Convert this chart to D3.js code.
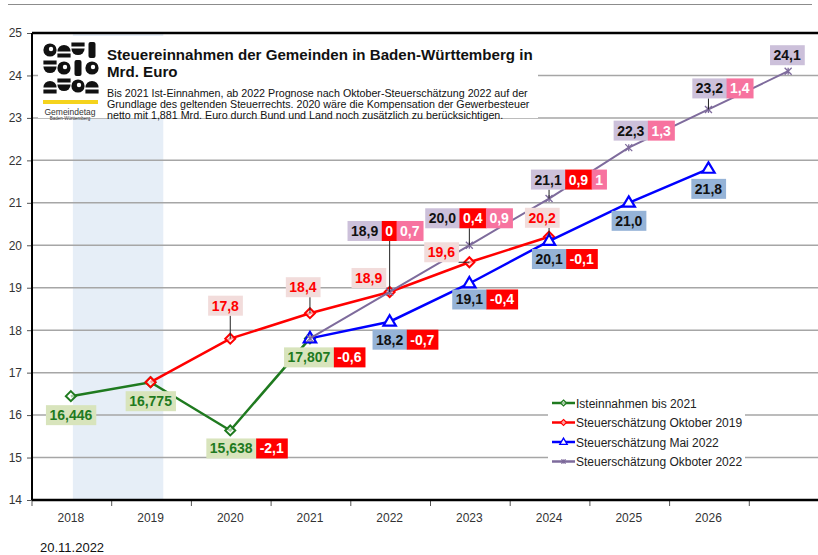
<!DOCTYPE html>
<html><head><meta charset="utf-8">
<script src="https://cdn.jsdelivr.net/npm/d3@7"></script>
<style>body{margin:0;background:#fff;} svg{display:block;font-family:"Liberation Sans",Arial,sans-serif;}</style>
</head><body><svg id="c" width="818" height="555"></svg>
<script>
// ---------- DATA ----------
const years = ["2018","2019","2020","2021","2022","2023","2024","2025","2026","2027"];
const tickLabels = ["2018","2019","2020","2021","2022","2023","2024","2025","2026",""];
const yTicks = [14,15,16,17,18,19,20,21,22,23,24,25];
const istValues      = [16.446,16.775,15.638,17.807,null,null,null,null,null,null];
const okt2019Values  = [null,16.775,17.8,18.4,18.9,19.6,20.2,null,null,null];
const mai2022Values  = [null,null,null,17.807,18.2,19.1,20.1,21.0,21.8,null];
const okt2022Values  = [null,null,null,17.807,18.9,20.0,21.1,22.3,23.2,24.1];
const istDiffOkt2019      = [null,null,-2.1,-0.6,null,null,null,null,null,null];
const mai2022DiffOkt2019  = [null,null,null,null,-0.7,-0.4,-0.1,null,null,null];
const okt2022DiffOkt2019  = [null,null,null,null,0,0.4,0.9,null,null,null];
const okt2022DiffMai2022  = [null,null,null,null,0.7,0.9,1,1.3,1.4,null];
const seriesNames = ["Isteinnahmen bis 2021","Steuerschätzung Oktober 2019","Steuerschätzung Mai 2022","Steuerschätzung Okboter 2022"];
const titleLines = ["Steuereinnahmen der Gemeinden in Baden-Württemberg in","Mrd. Euro"];
const subtitleLines = ["Bis 2021 Ist-Einnahmen, ab 2022 Prognose nach Oktober-Steuerschätzung 2022 auf der",
  "Grundlage des geltenden Steuerrechts. 2020 wäre die Kompensation der Gewerbesteuer",
  "netto mit 1,881 Mrd. Euro durch Bund und Land noch zusätzlich zu berücksichtigen."];
const logoName = ["Gemeindetag","Baden-Württemberg"];
const dateText = "20.11.2022";

// ---------- LAYOUT (label offsets relative to points) ----------
const istLabelOff = {0:[0,19],1:[0,19],2:[1,18],3:[-1,19]};
const okt2019LabelOff = {2:[-5,-33],3:[-7,-26],4:[-21,-14],5:[-28,-10],6:[-7,-19]};
const okt2022LabelOff = {4:[-25,-61],5:[-27,-27],6:[-1,-19],7:[2,-17],8:[1,-21],9:[-1,-16]};
const mai2022LabelOff = {4:[0,18],5:[0,16],6:[0,18],7:[0,18],8:[0,20]};
// decorative logo glyph pattern (rows x cols)
const logoPattern = [["c","t","b","r"],["b","c","r","c"],["t","b","c","t"]];

const C = {green:"#1f7a1f", red:"#ff0000", blue:"#0000ff", purple:"#7e6b9c",
  greenBg:"#d8e4bc", redBg:"#f2dcdb", blueBg:"#95b3d7", purpleBg:"#ccc0da", pink:"#f7739f", grid:"#a6a6a6"};

const svg = d3.select("#c");
const W = 818, H = 555;
const M = {l:31, t:33, b:500, r:828};
const x = d3.scaleBand().domain(years).range([M.l, M.r]).padding(0);
const xc = i => x(years[i]) + x.bandwidth()/2;
const y = d3.scaleLinear().domain([14,25]).range([M.b, M.t]);

// top separator
svg.append("line").attr("x1",8).attr("x2",812).attr("y1",4.5).attr("y2",4.5).attr("stroke","#8c8c8c").attr("stroke-width",1);

// shaded band (full plot height, title box covers the top)
svg.append("rect").attr("x", xc(0)+2).attr("y", y(25))
  .attr("width", (xc(1) + x.bandwidth()*0.16) - (xc(0)+2)).attr("height", y(14)-y(25)).attr("fill","#e6eef7");

// gridlines
svg.append("g").selectAll("line").data(yTicks.filter(d=>d>14 && d<25)).join("line")
  .attr("x1", M.l).attr("x2", W).attr("y1", d=>y(d)).attr("y2", d=>y(d))
  .attr("stroke", C.grid).attr("stroke-width",1.5);

// y axis
const yAxis = svg.append("g").attr("transform",`translate(${M.l+1},0)`)
  .call(d3.axisLeft(y).tickValues(yTicks).tickSize(5).tickFormat(d3.format("d")));
yAxis.select(".domain").remove();
yAxis.selectAll("line").attr("stroke","#555");
yAxis.selectAll("text").attr("font-size",12).attr("fill","#333").attr("font-family","Liberation Sans, Arial").attr("dx",-2);

// x axis
const xAxis = svg.append("g").attr("transform",`translate(0,${M.b})`)
  .call(d3.axisBottom(x).tickSize(0).tickFormat((d,i)=>tickLabels[i]));
xAxis.select(".domain").remove();
xAxis.selectAll("text").attr("font-size",12).attr("fill","#333").attr("dy","1.55em").attr("font-family","Liberation Sans, Arial");
svg.append("g").selectAll("line").data(years).join("line")
  .attr("x1", d=>x(d)+1).attr("x2", d=>x(d)+1).attr("y1", M.b).attr("y2", M.b+6).attr("stroke","#555");

// frame
svg.append("line").attr("x1",M.l+1).attr("x2",W).attr("y1",y(25)).attr("y2",y(25)).attr("stroke","#000").attr("stroke-width",2.5);
svg.append("line").attr("x1",M.l+1).attr("x2",W).attr("y1",y(14)).attr("y2",y(14)).attr("stroke","#000").attr("stroke-width",2.5);
svg.append("line").attr("x1",M.l+1).attr("x2",M.l+1).attr("y1",y(25)).attr("y2",y(14)).attr("stroke","#000").attr("stroke-width",2);

// title box
svg.append("rect").attr("x",38).attr("y",36).attr("width",500).attr("height",82).attr("fill","#fff");
// logo (decorative shapes)
const logo = svg.append("g");
const cw = 14, ch = 18, lx0 = 43, ly0 = 41;
logoPattern.forEach((row,r)=>row.forEach((p,c)=>{
  const cx = lx0 + c*cw + cw/2, cy = ly0 + r*ch + ch/2, rr = 6.6;
  if(p==="c"){
    logo.append("circle").attr("cx",cx).attr("cy",cy).attr("r",rr).attr("fill","#111");
    logo.append("circle").attr("cx",cx+1).attr("cy",cy-1).attr("r",2.2).attr("fill","#fff");
  } else if(p==="t"){
    logo.append("path").attr("d",d3.arc()({innerRadius:0,outerRadius:rr,startAngle:-Math.PI/2,endAngle:Math.PI/2})).attr("transform",`translate(${cx},${cy+1.5})`).attr("fill","#111");
    logo.append("rect").attr("x",cx-rr).attr("y",cy+3.5).attr("width",rr*2).attr("height",4).attr("fill","#111");
  } else if(p==="b"){
    logo.append("path").attr("d",d3.arc()({innerRadius:0,outerRadius:rr,startAngle:Math.PI/2,endAngle:Math.PI*1.5})).attr("transform",`translate(${cx},${cy-1.5})`).attr("fill","#111");
    logo.append("rect").attr("x",cx-rr).attr("y",cy-7.5).attr("width",rr*2).attr("height",4).attr("fill","#111");
  } else {
    logo.append("rect").attr("x",cx-3.5).attr("y",cy-8).attr("width",7).attr("height",16).attr("rx",2).attr("fill","#111");
  }
}));
logo.append("rect").attr("x",43).attr("y",100).attr("width",55).attr("height",4).attr("fill","#f5d31c");
logo.append("text").attr("x",70).attr("y",114.5).attr("text-anchor","middle").attr("font-size",8.5).attr("fill","#333").text(logoName[0]);
logo.append("text").attr("x",70).attr("y",120).attr("text-anchor","middle").attr("font-size",4.5).attr("fill","#333").text(logoName[1]);

function fitText(sel, target){ const w = sel.node().getComputedTextLength(); const fs = +sel.attr("font-size"); sel.attr("font-size", fs*target/w); }
const t1 = svg.append("text").attr("x",107).attr("y",60).attr("font-weight","bold").attr("font-size",16).attr("fill","#111").text(titleLines[0]);
fitText(t1, 426);
svg.append("text").attr("x",107).attr("y",77).attr("font-weight","bold").attr("font-size",t1.attr("font-size")).attr("fill","#111").text(titleLines[1]);
const s1 = svg.append("text").attr("x",107).attr("y",97).attr("font-size",11).attr("fill","#111").text(subtitleLines[0]);
fitText(s1, 421);
const sfs = s1.attr("font-size");
subtitleLines.slice(1).forEach((l,i)=>svg.append("text").attr("x",107).attr("y",108+i*10.5).attr("font-size",sfs).attr("fill","#111").text(l));

// ---------- SERIES ----------
const lineGen = d3.line().defined(d=>d.v!=null).x(d=>xc(d.i)).y(d=>y(d.v));
const toPts = arr => arr.map((v,i)=>({v,i}));
function drawSeries(vals, color, width, marker){
  const g = svg.append("g");
  g.append("path").datum(toPts(vals)).attr("d",lineGen).attr("fill","none").attr("stroke",color).attr("stroke-width",width);
  toPts(vals).filter(d=>d.v!=null).forEach(d=>drawMarker(g, xc(d.i), y(d.v), marker, color, 1));
}
function drawMarker(g, cx, cy, type, color, s){
  if(type==="diamond"){
    const r=5*s;
    g.append("path").attr("d",`M${cx},${cy-r}L${cx+r},${cy}L${cx},${cy+r}L${cx-r},${cy}Z`).attr("fill","#fff").attr("fill-opacity",0.6).attr("stroke",color).attr("stroke-width",2*s);
  } else if(type==="triangle"){
    const r=6.5*s;
    g.append("path").attr("d",`M${cx},${cy-r}L${cx+r*0.95},${cy+r*0.6}L${cx-r*0.95},${cy+r*0.6}Z`).attr("fill","#fff").attr("stroke",color).attr("stroke-width",2.2*s);
  } else {
    const r=3.5*s;
    g.append("path").attr("d",`M${cx-r},${cy-r}L${cx+r},${cy+r}M${cx-r},${cy+r}L${cx+r},${cy-r}M${cx},${cy-r}L${cx},${cy+r}`).attr("stroke",color).attr("stroke-width",1.3);
  }
}
drawSeries(istValues, C.green, 2.5, "diamond");
drawSeries(okt2019Values, C.red, 2.5, "diamond");
drawSeries(mai2022Values, C.blue, 2.5, "triangle");
drawSeries(okt2022Values, C.purple, 2, "cross");

// ---------- LABELS ----------
const leaderLayer = svg.append("g");
const labelLayer = svg.append("g");
const fmt1 = v => v.toFixed(1).replace(".",",");
const fmt3 = v => v.toFixed(3).replace(".",",");
const fmtD = v => String(v).replace(".",",");
function labelGroup(px, py, off, segs, leader){
  const cx = px+off[0], cy = py+off[1], pad=3.5, h=20;
  const g = labelLayer.append("g");
  const items = segs.map(s=>{
    const t = g.append("text").attr("font-size",14).attr("font-weight","bold").attr("fill",s.fg).attr("text-anchor","middle").text(s.text);
    return {s,t,w:t.node().getComputedTextLength()+2*pad};
  });
  let xx = cx - items[0].w/2; const left = xx, top = cy-h/2;
  items.forEach(it=>{
    g.insert("rect","text").attr("x",xx).attr("y",top).attr("width",it.w+0.5).attr("height",h).attr("fill",it.s.bg);
    it.t.attr("x",xx+it.w/2).attr("y",cy+5);
    xx += it.w;
  });
  if(leader){
    const qx = Math.max(left, Math.min(xx, px)), qy = Math.max(top, Math.min(top+h, py));
    if(Math.hypot(qx-px,qy-py) > 7)
      leaderLayer.append("line").attr("x1",qx).attr("y1",qy).attr("x2",px).attr("y2",py).attr("stroke","#222").attr("stroke-width",1);
  }
}
istValues.forEach((v,i)=>{ if(v==null||!istLabelOff[i]) return;
  const segs=[{text:fmt3(v),bg:C.greenBg,fg:C.green}];
  if(istDiffOkt2019[i]!=null) segs.push({text:fmtD(istDiffOkt2019[i]),bg:C.red,fg:"#fff"});
  labelGroup(xc(i),y(v),istLabelOff[i],segs,false);
});
okt2019Values.forEach((v,i)=>{ if(v==null||!okt2019LabelOff[i]) return;
  labelGroup(xc(i),y(v),okt2019LabelOff[i],[{text:fmt1(v),bg:C.redBg,fg:C.red}],true);
});
mai2022Values.forEach((v,i)=>{ if(v==null||!mai2022LabelOff[i]) return;
  const segs=[{text:fmt1(v),bg:C.blueBg,fg:"#111"}];
  if(mai2022DiffOkt2019[i]!=null) segs.push({text:fmtD(mai2022DiffOkt2019[i]),bg:C.red,fg:"#fff"});
  labelGroup(xc(i),y(v),mai2022LabelOff[i],segs,false);
});
okt2022Values.forEach((v,i)=>{ if(v==null||!okt2022LabelOff[i]) return;
  const segs=[{text:fmt1(v),bg:C.purpleBg,fg:"#111"}];
  if(okt2022DiffOkt2019[i]!=null) segs.push({text:fmtD(okt2022DiffOkt2019[i]),bg:C.red,fg:"#fff"});
  if(okt2022DiffMai2022[i]!=null) segs.push({text:fmtD(okt2022DiffMai2022[i]),bg:C.pink,fg:"#fff"});
  labelGroup(xc(i),y(v),okt2022LabelOff[i],segs,true);
});

// ---------- LEGEND ----------
svg.append("rect").attr("x",548).attr("y",388).attr("width",197).attr("height",82).attr("fill","#fff");
const legColors=[C.green,C.red,C.blue,C.purple], legMarkers=["diamond","diamond","triangle","cross"];
seriesNames.forEach((n,i)=>{
  const ly = 403 + i*19.5;
  const g = svg.append("g");
  g.append("line").attr("x1",552).attr("x2",575).attr("y1",ly).attr("y2",ly).attr("stroke",legColors[i]).attr("stroke-width",2.5);
  drawMarker(g,563.5,ly,legMarkers[i],legColors[i],0.6);
  g.append("text").attr("x",576).attr("y",ly+4.5).attr("font-size",12).attr("fill","#222").text(n);
});

svg.append("text").attr("x",40).attr("y",552).attr("font-size",13).attr("fill","#111").text(dateText);
</script></body></html>
